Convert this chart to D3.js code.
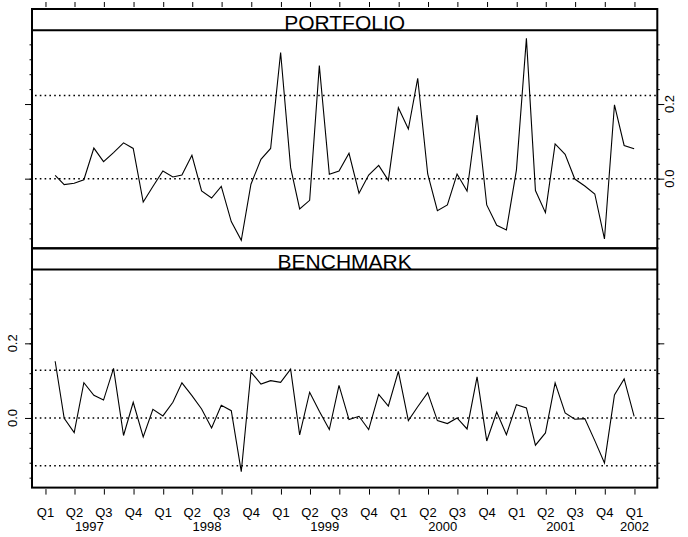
<!DOCTYPE html>
<html>
<head>
<meta charset="utf-8">
<script src="https://cdn.jsdelivr.net/npm/d3@7"></script>
<style>
  body { margin: 0; background: #fff; }
  svg { display: block; font-family: "Liberation Sans", Arial, Helvetica, sans-serif; }
</style>
</head>
<body>
<div id="chart"></div>
<script>
// dati mensili (fine mese) gen 1997 - dic 2001
const firstYear = 1997;
const nMonths = 60;

const portfolio = [
  0.009, -0.016, -0.0125, -0.003, 0.082, 0.0455, 0.070, 0.096, 0.081, -0.0625,
  -0.021, 0.0205, 0.0045, 0.0098, 0.0625, -0.033, -0.052, -0.0205, -0.115, -0.165,
  -0.015, 0.052, 0.081, 0.338, 0.0295, -0.081, -0.058, 0.303, 0.0116, 0.0205,
  0.068, -0.039, 0.0098, 0.0357, -0.0045, 0.190, 0.133, 0.269, 0.0125, -0.0857,
  -0.0705, 0.0125, -0.033, 0.1705, -0.0705, -0.125, -0.1375, 0.023, 0.376, -0.032,
  -0.091, 0.093, 0.065, -0.001, -0.0196, -0.041, -0.1616, 0.198, 0.089, 0.080
];

const benchmark = [
  0.152, -0.001, -0.039, 0.0946, 0.0607, 0.048, 0.133, -0.047, 0.042, -0.051,
  0.023, 0.0054, 0.042, 0.094, 0.060, 0.024, -0.0268, 0.034, 0.0196, -0.144,
  0.123, 0.091, 0.100, 0.0955, 0.131, -0.0455, 0.069, 0.018, -0.031, 0.0875,
  -0.0045, 0.0045, -0.031, 0.063, 0.032, 0.125, -0.007, 0.030, 0.068, -0.007,
  -0.015, 0.000, -0.0295, 0.110, -0.0616, 0.016, -0.0446, 0.0357, 0.0268, -0.073,
  -0.040, 0.094, 0.0134, -0.0036, -0.0018, -0.0607, -0.1205, 0.0616, 0.1045, 0.0045
];

// linee di riferimento tratteggiate
const portfolioRefs = [0, 0.223, -0.223];
const benchmarkRefs = [0, 0.128, -0.128];

const panelNames = ["PORTFOLIO", "BENCHMARK"];
const quarterLabels = ["Q1", "Q2", "Q3", "Q4"];
const yearLabels = ["1997", "1998", "1999", "2000", "2001", "2002"];
const yMinorTicks = [-0.16, -0.12, -0.08, -0.04, 0, 0.04, 0.08, 0.12, 0.16, 0.2, 0.24, 0.28, 0.32, 0.36];
const yMajorTicks = [0, 0.2];
const yTickLabels = ["0.0", "0.2"];

const width = 688, height = 537;
const boxLeft = 32, boxRight = 657.3, boxTop0 = 9;
const stripH = 21.3, panelH = 218;

const dates = d3.range(nMonths).map(i => new Date(firstYear, i + 1, 0));

const svg = d3.select("#chart").append("svg")
  .attr("width", width)
  .attr("height", height);

// scala x: estensione dati + 4% (come lattice)
const xExt = d3.extent(dates).map(d => +d);
const xPad = (xExt[1] - xExt[0]) * 0.04;
const x = d3.scaleTime()
  .domain([new Date(xExt[0] - xPad), new Date(xExt[1] + xPad)])
  .range([boxLeft, boxRight]);

const allVals = portfolio.concat(benchmark);
const yExt = d3.extent(allVals);
const yPad = (yExt[1] - yExt[0]) * 0.04;
const yDomain = [yExt[0] - yPad, yExt[1] + yPad];

const quarterDates = [];
for (let yy = 1997; yy <= 2002; yy++) {
  for (let q = 0; q < 4; q++) {
    const d = new Date(yy, q * 3, 1);
    if (d >= x.domain()[0] && d <= x.domain()[1]) quarterDates.push(d);
  }
}

const panels = [
  { name: panelNames[0], values: portfolio, refs: portfolioRefs, labelSide: "right" },
  { name: panelNames[1], values: benchmark, refs: benchmarkRefs, labelSide: "left" }
];

panels.forEach((p, i) => {
  const boxTop = boxTop0 + i * (stripH + panelH);
  const plotTop = boxTop + stripH;
  const plotBottom = plotTop + panelH;
  const y = d3.scaleLinear().domain(yDomain).range([plotBottom, plotTop]);

  const clipId = "clip" + i;
  svg.append("clipPath").attr("id", clipId)
    .append("rect")
    .attr("x", boxLeft).attr("y", plotTop)
    .attr("width", boxRight - boxLeft).attr("height", panelH);

  const g = svg.append("g").attr("clip-path", `url(#${clipId})`);

  // linee tratteggiate
  g.selectAll("line.ref")
    .data(p.refs)
    .enter().append("line")
    .attr("class", "ref")
    .attr("x1", boxLeft + 3).attr("x2", boxRight)
    .attr("y1", d => y(d)).attr("y2", d => y(d))
    .attr("stroke", "#000")
    .attr("stroke-width", 1.5)
    .attr("stroke-dasharray", "1.6,3.2");

  // serie
  const line = d3.line()
    .x((d, k) => x(dates[k]))
    .y(d => y(d));
  g.append("path")
    .datum(p.values)
    .attr("d", line)
    .attr("fill", "none")
    .attr("stroke", "#000")
    .attr("stroke-width", 1.1);

  // tacche asse y (sinistra e destra)
  const axL = svg.append("g").attr("transform", `translate(${boxLeft},0)`)
    .call(d3.axisLeft(y).tickValues(yMinorTicks).tickSize(2.5).tickFormat(""));
  axL.select(".domain").remove();
  const axLM = svg.append("g").attr("transform", `translate(${boxLeft},0)`)
    .call(d3.axisLeft(y).tickValues(yMajorTicks).tickSize(7).tickFormat(""));
  axLM.select(".domain").remove();
  const axR = svg.append("g").attr("transform", `translate(${boxRight},0)`)
    .call(d3.axisRight(y).tickValues(yMinorTicks).tickSize(2.5).tickFormat(""));
  axR.select(".domain").remove();
  const axRM = svg.append("g").attr("transform", `translate(${boxRight},0)`)
    .call(d3.axisRight(y).tickValues(yMajorTicks).tickSize(7).tickFormat(""));
  axRM.select(".domain").remove();

  // etichette y, alternate
  const lx = p.labelSide === "left" ? 16.5 : 674;
  svg.selectAll(null)
    .data(yMajorTicks)
    .enter().append("text")
    .attr("transform", d => `translate(${lx},${y(d)}) rotate(-90)`)
    .attr("text-anchor", "middle")
    .attr("font-size", 13)
    .text((d, k) => yTickLabels[k]);

  // strip
  svg.append("line")
    .attr("x1", boxLeft).attr("x2", boxRight)
    .attr("y1", plotTop).attr("y2", plotTop)
    .attr("stroke", "#000").attr("stroke-width", 2);
  svg.append("text")
    .attr("x", (boxLeft + boxRight) / 2)
    .attr("y", plotTop - 0.5)
    .attr("text-anchor", "middle")
    .attr("font-size", 21)
    .text(p.name);

  // cornice
  svg.append("rect")
    .attr("x", boxLeft).attr("y", boxTop)
    .attr("width", boxRight - boxLeft).attr("height", plotBottom - boxTop)
    .attr("fill", "none")
    .attr("stroke", "#000").attr("stroke-width", 2);
});

const chartBottom = boxTop0 + 2 * (stripH + panelH);

// asse x in alto (solo tacche)
const axTop = svg.append("g").attr("transform", `translate(0,${boxTop0 - 2})`)
  .call(d3.axisTop(x).tickValues(quarterDates).tickSize(5).tickFormat(""));
axTop.select(".domain").remove();

// asse x in basso
const axBot = svg.append("g").attr("transform", `translate(0,${chartBottom + 1.5})`)
  .call(d3.axisBottom(x).tickValues(quarterDates).tickSize(5.5).tickFormat(""));
axBot.select(".domain").remove();

svg.selectAll("text.q")
  .data(quarterDates)
  .enter().append("text")
  .attr("class", "q")
  .attr("x", d => x(d))
  .attr("y", 516.5)
  .attr("text-anchor", "middle")
  .attr("font-size", 13)
  .text(d => quarterLabels[Math.floor(d.getMonth() / 3)]);

// anni centrati sulla media delle tacche trimestrali
svg.selectAll("text.yr")
  .data(yearLabels)
  .enter().append("text")
  .attr("class", "yr")
  .attr("x", yr => d3.mean(quarterDates.filter(d => d.getFullYear() === +yr), d => x(d)))
  .attr("y", 530.5)
  .attr("text-anchor", "middle")
  .attr("font-size", 13)
  .text(yr => yr);

svg.selectAll(".tick line").attr("stroke", "#000").attr("stroke-width", 1);
</script>
</body>
</html>
